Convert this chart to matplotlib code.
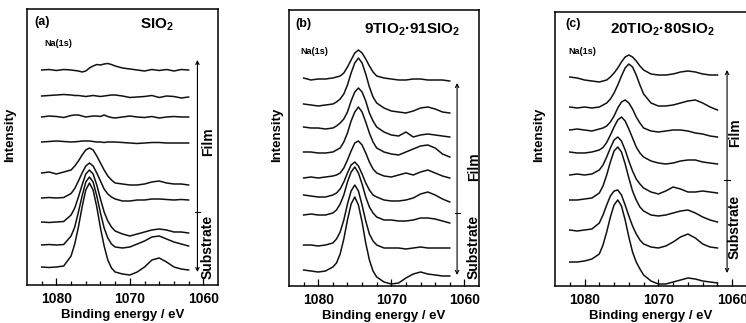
#!/usr/bin/env python3
# Na(1s) XPS depth profiles for three sol-gel films (SiO2, 9TiO2-91SiO2, 20TiO2-80SiO2).
# Each panel: stacked spectra, film surface at top, substrate at bottom.
import matplotlib
matplotlib.use("Agg")
import matplotlib.pyplot as plt

plt.rcParams["font.family"] = ["Liberation Sans", "DejaVu Sans"]
plt.rcParams["font.weight"] = "bold"
plt.rcParams["mathtext.fontset"] = "custom"
plt.rcParams["mathtext.rm"] = "Liberation Sans:bold"
plt.rcParams["mathtext.default"] = "rm"

# binding energy grid (eV), shared by all spectra
energy = [1082, 1081, 1080, 1079, 1078, 1077.5, 1077, 1076.5, 1076, 1075.5, 1075,
          1074.5, 1074, 1073.5, 1073, 1072.5, 1072, 1071, 1070, 1069, 1068, 1067,
          1066, 1065, 1064, 1063, 1062]

# (a) SiO2 film, top spectrum = surface
sio2_spectra = [
    [0, 0.5, -0.5, 0.5, 0, -0.5, -1, -2, -1, 2, 4, 5.5, 5, 6, 6.5, 5.5, 4, 2, 1, 0, -1, 0.5, -0.5, 0.5, -1, 0.5, 0],
    [0, 0.5, 1, 1.5, 1, 0.5, 0.5, 0, -0.5, 0, 0.5, 0, -0.5, 0, 0.5, 1, 1, 0, -1.5, -1, -0.5, 0.5, -1.5, 0, -0.5, -2, -1],
    [0, 1, 0.5, -0.5, 1.5, 2, 2, 1, 0, 0.5, 1, 1, 0.5, 2, 0.5, -0.5, -1, 0, 1, 0, -0.5, 0.5, -1, 0, 0.5, 0, 0],
    [0, 0.5, 1, 0.5, 0, 0.2, 0.5, 1, 1, 1, 0.5, 0, 0, -0.5, 0, 0, 0, -0.5, -1, -1.5, -1, -0.5, -0.5, -1, -1, -1, -1],
    [0, 1, -1, 1, 3, 7, 12, 18, 23, 25, 23, 17, 10, 3, -3, -7, -10, -11, -12, -12, -11, -9, -8, -10, -11, -11, -12],
    [0, 0.5, 0, 0.5, 4.5, 9.5, 17, 25, 32, 35, 32, 25, 17, 9, 4, 1, -1, -3, -3, -2, -2, -1, -1, -1.5, -2, -1.5, -2],
    [0, -0.5, 0, 0.5, 7, 14, 25, 37, 48, 52, 48, 37, 23, 10, 1, -5, -9, -12, -14, -12, -10, -8, -7, -8, -10, -10, -11],
    [0, 0.5, 0, 0.5, 9, 18, 33, 49, 63, 68, 63, 49, 32, 17, 7, 1, -2, -3, -2, 1, 4, 8, 9, 6, 3, 1, -1],
    [0, -0.5, 0, 1, 11, 23, 40, 60, 77, 84, 77, 60, 39, 21, 7, -1, -5, -7, -8, -5, 0, 7, 9, 5, 0, -2, -3],
]
sio2_offsets = [215, 189, 168, 143, 112, 87, 63, 40, 18]

# (b) 9TiO2-91SiO2
ti9_spectra = [
    [0, -2, -1, -1, 0, 1, 2, 5, 11, 18, 25, 28, 25, 19, 12, 6, 2, 0, -1, -2, -2, -1, -1, -2, -2, -2, -3],
    [0, -1, -2, -1, 0, 2, 5, 10, 19, 31, 41, 46, 41, 30, 17, 7, 1, -4, -7, -8, -9, -7, -4, -3, -5, -8, -9],
    [0, -1, -1, -2, -1, 1, 4, 8, 15, 26, 35, 39, 35, 26, 14, 6, 0, -5, -8, -9, -5, -10, -8, -7, -8, -9, -10],
    [0, 0, -1, -1, 0, 2, 4, 10, 19, 31, 40, 45, 40, 30, 19, 10, 4, 0, -2, -3, 0, 3, 6, 7, 4, -2, -5],
    [0, 1, 0, 1, 2, 3, 5, 10, 18, 27, 35, 37, 33, 25, 16, 9, 5, 2, 1, 3, 5, 3, 6, 8, 5, 2, 0],
    [0, -1, -2, -2, 0, 2, 6, 13, 22, 30, 33, 29, 21, 12, 5, 0, -2, -5, -6, -6, -5, -3, 1, 3, 0, -4, -7],
    [0, 1, 0, 0, 2, 5, 11, 20, 33, 43, 48, 42, 31, 18, 8, 2, -2, -5, -5, -6, -6, -5, -3, -3, -4, -6, -8],
    [0, 0, -1, 0, 2, 6, 13, 25, 41, 54, 60, 54, 40, 24, 11, 4, 0, -3, -3, -3, -4, -3, -2, -3, -3, -3, -3],
    [0, -1, -2, -1, 3, 7, 16, 31, 50, 66, 73, 65, 48, 27, 10, -1, -7, -12, -14, -13, -8, -4, -2, -4, -5, -6, -6],
]
ti9_offsets = [208, 182, 159, 134, 108, 91, 71, 41, 16]

# (c) 20TiO2-80SiO2
ti20_spectra = [
    [0, -1, -3, -4, -5, -4, -3, 0, 4, 9, 15, 20, 22, 20, 16, 11, 7, 3, 2, 2, 3, 5, 6, 5, 3, 2, 2],
    [0, -1, 0, -1, 0, 2, 4, 8, 14, 22, 31, 39, 43, 40, 32, 22, 13, 4, 1, 1, 2, 4, 6, 7, 4, 0, -3],
    [0, 1, 0, -1, 1, 2, 4, 8, 14, 22, 28, 30, 27, 21, 13, 7, 2, -1, -2, -1, 0, 0, -1, -3, -4, -6, -7],
    [0, -1, -1, 0, 2, 4.5, 9.5, 17, 25, 32, 35, 31, 23, 14, 5, -1, -5, -9, -11, -12, -11, -9, -8, -8, -10, -11, -12],
    [0, 1, 0, 1, 5, 10, 18, 27, 35, 38, 34, 25, 14, 4, -4, -9, -13, -17, -19, -16, -12, -14, -17, -17, -16, -17, -18],
    [0, 0, 1, 2, 7, 14, 25, 38, 49, 53, 48, 36, 22, 9, 0, -7, -11, -15, -16, -15, -13, -11, -10, -13, -17, -20, -22],
    [0, -1, 0, 1, 7, 15, 25, 34, 39, 40, 35, 25, 14, 4, -4, -10, -14, -17, -18, -16, -12, -7, -4, -8, -14, -17, -18],
    [0, 0, 1, 3, 8, 17, 30, 45, 57, 62, 56, 42, 25, 10, 0, -7, -13, -19, -22, -22, -20, -18, -16, -17, -19, -20, -21],
]
ti20_offsets = [209, 179, 156, 134, 111, 86, 56, 24]

W, H = 746, 323


def box(x0, x1, y0, y1):
    # pixel box -> figure fraction rect
    return [x0 / W, 1 - y1 / H, (x1 - x0) / W, (y1 - y0) / H]


def fig_xy(x, y):
    return x / W, 1 - y / H


panels = [
    dict(spectra=sio2_spectra, offsets=sio2_offsets, rect=(27, 218, 9, 285),
         tag="(a)", tag_xy=(34, 22), title="SIO$_2$", title_xy=(140, 25),
         na_xy=(44, 43), ylab_x=10,
         arrow=(1060.8, 225, 13, 73), film_xy=(208, 142), sub_xy=(208, 247)),
    dict(spectra=ti9_spectra, offsets=ti9_offsets, rect=(289, 479, 10, 286),
         tag="(b)", tag_xy=(295, 24), title="9TIO$_2$·91SIO$_2$", title_xy=(364, 30),
         na_xy=(300, 52), ylab_x=277,
         arrow=(1061.0, 203, 11, 73), film_xy=(474, 167), sub_xy=(474, 247)),
    dict(spectra=ti20_spectra, offsets=ti20_offsets, rect=(555, 747, 12, 286),
         tag="(c)", tag_xy=(565, 24), title="20TIO$_2$·80SIO$_2$", title_xy=(610, 30),
         na_xy=(568, 51), ylab_x=539,
         arrow=(1060.7, 216, 13, 106), film_xy=(735, 133), sub_xy=(735, 227)),
]

fig = plt.figure(figsize=(W / 100, H / 100), dpi=100)

for p in panels:
    x0, x1, y0, y1 = p["rect"]
    ax = fig.add_axes(box(x0, x1, y0, y1))
    for spec, off in zip(p["spectra"], p["offsets"]):
        ax.plot(energy, [v + off for v in spec], color="#111111", lw=1.1)
    ax.set_xlim(1084, 1058)
    ax.set_ylim(0, y1 - y0)
    ax.set_yticks([])
    ax.set_xticks([1080, 1070, 1060])
    ax.set_xticks(range(1062, 1083, 2), minor=True)
    ax.tick_params(axis="x", which="both", direction="in", top=False, width=0.9)
    ax.tick_params(axis="x", which="major", length=5, labelsize=10, pad=5)
    ax.tick_params(axis="x", which="minor", length=3)
    for s in ax.spines.values():
        s.set_linewidth(1.1)
    ax.set_xlabel("Binding energy / eV", fontsize=9.5, fontweight="bold", labelpad=2)

    # depth arrow: film above, substrate below
    xa, ytop, ybot, ysplit = p["arrow"]
    ax.annotate("", xy=(xa, ybot), xytext=(xa, ytop),
                arrowprops=dict(arrowstyle="<->", lw=0.8, color="black",
                                mutation_scale=6, shrinkA=0, shrinkB=0))
    ax.plot([xa - 0.35, xa + 0.35], [ysplit, ysplit], color="black", lw=0.8)

    fig.text(*fig_xy(*p["tag_xy"]), p["tag"], fontsize=9, ha="left", va="center")
    fig.text(*fig_xy(*p["title_xy"]), p["title"], fontsize=11, ha="left", va="center")
    fig.text(*fig_xy(*p["na_xy"]), "Na(1s)", fontsize=6.5, ha="left", va="center")
    fig.text(*fig_xy(p["ylab_x"], 135), "Intensity", fontsize=9.5, rotation=90,
             ha="center", va="center")
    fig.text(*fig_xy(*p["film_xy"]), "Film", fontsize=10, rotation=90,
             ha="center", va="center")
    fig.text(*fig_xy(*p["sub_xy"]), "Substrate", fontsize=10, rotation=90,
             ha="center", va="center")

fig.savefig("out.png", dpi=100)
